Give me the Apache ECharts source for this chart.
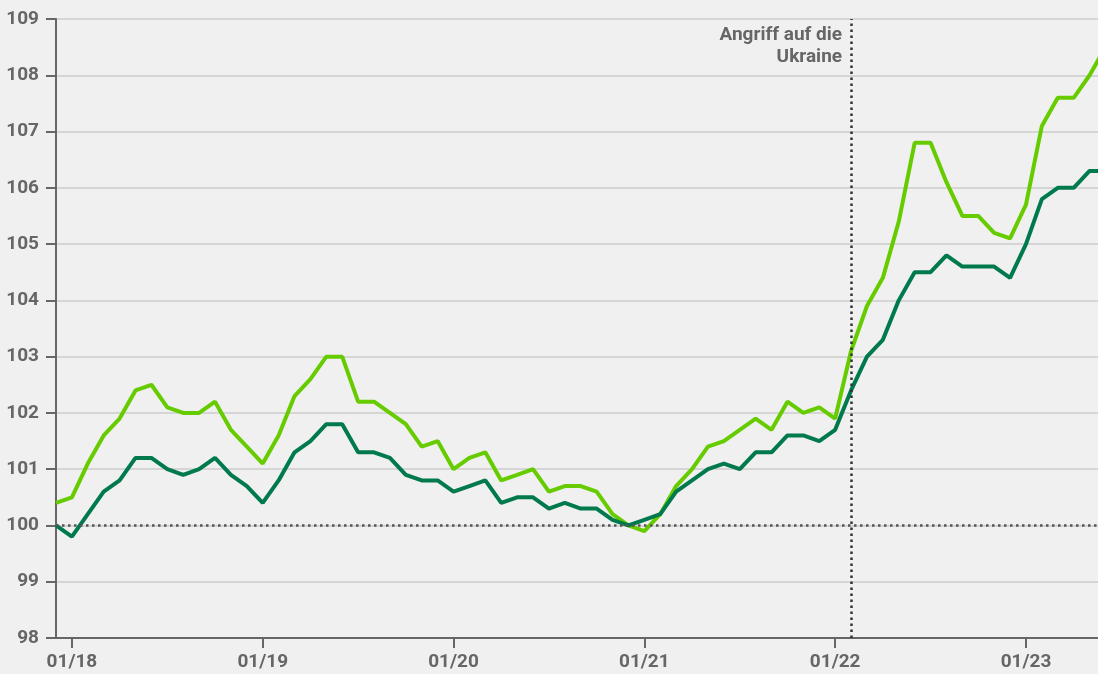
<!DOCTYPE html>
<html>
<head>
<meta charset="utf-8">
<script src="https://cdn.jsdelivr.net/npm/echarts@6/dist/echarts.min.js"></script>
<style>
html,body{margin:0;padding:0;background:#f0f0f0;}
#c{width:1098px;height:674px;}
</style>
</head>
<body>
<div id="c"></div>
<script>
// Month index: -1 = 12/17, 0 = 01/18, ... 65 = 06/23
const startIndex = -1;
const xTickValues = [0, 12, 24, 36, 48, 60];
const xTickLabels = ['01/18', '01/19', '01/20', '01/21', '01/22', '01/23'];
const yTickLabels = [98, 99, 100, 101, 102, 103, 104, 105, 106, 107, 108, 109];

const seriesLight = [
  100.4, 100.5, 101.1, 101.6, 101.9, 102.4, 102.5, 102.1, 102.0, 102.0, 102.2, 101.7, 101.4,
  101.1, 101.6, 102.3, 102.6, 103.0, 103.0, 102.2, 102.2, 102.0, 101.8, 101.4, 101.5,
  101.0, 101.2, 101.3, 100.8, 100.9, 101.0, 100.6, 100.7, 100.7, 100.6, 100.2, 100.0,
  99.9, 100.2, 100.7, 101.0, 101.4, 101.5, 101.7, 101.9, 101.7, 102.2, 102.0, 102.1,
  101.9, 103.1, 103.9, 104.4, 105.4, 106.8, 106.8, 106.1, 105.5, 105.5, 105.2, 105.1,
  105.7, 107.1, 107.6, 107.6, 108.0, 108.5
];
const seriesDark = [
  100.0, 99.8, 100.2, 100.6, 100.8, 101.2, 101.2, 101.0, 100.9, 101.0, 101.2, 100.9, 100.7,
  100.4, 100.8, 101.3, 101.5, 101.8, 101.8, 101.3, 101.3, 101.2, 100.9, 100.8, 100.8,
  100.6, 100.7, 100.8, 100.4, 100.5, 100.5, 100.3, 100.4, 100.3, 100.3, 100.1, 100.0,
  100.1, 100.2, 100.6, 100.8, 101.0, 101.1, 101.0, 101.3, 101.3, 101.6, 101.6, 101.5,
  101.7, 102.4, 103.0, 103.3, 104.0, 104.5, 104.5, 104.8, 104.6, 104.6, 104.6, 104.4,
  105.0, 105.8, 106.0, 106.0, 106.3, 106.3
];
const eventIndex = 49; // 02/22
const eventLabel = 'Angriff auf die\nUkraine';
const baseline = 100;

const toPairs = arr => arr.map((v, i) => [startIndex + i, v]);
const tickLabelMap = {};
xTickValues.forEach((v, i) => { tickLabelMap[v] = xTickLabels[i]; });

const gray = '#666666';
const font = 'Roboto, "Liberation Sans", sans-serif';

const chart = echarts.init(document.getElementById('c'), null, {renderer: 'canvas'});
chart.setOption({
  backgroundColor: '#f0f0f0',
  animation: false,
  grid: {left: 56, right: 0, top: 19, bottom: 36, containLabel: false},
  xAxis: {
    type: 'value',
    min: -1,
    max: 64.53,
    axisLine: {show: true, onZero: false, lineStyle: {color: gray, width: 2}},
    axisTick: {show: true, length: 10, customValues: xTickValues, lineStyle: {color: gray, width: 2}},
    axisLabel: {
      show: true, customValues: xTickValues, margin: 15,
      formatter: v => tickLabelMap[v] || '',
      color: gray, fontFamily: font, fontWeight: 'bold', fontSize: 19
    },
    splitLine: {show: false}
  },
  yAxis: {
    type: 'value',
    min: yTickLabels[0],
    max: yTickLabels[yTickLabels.length - 1],
    interval: 1,
    axisLine: {show: true, onZero: false, lineStyle: {color: gray, width: 2}},
    axisTick: {show: true, length: 10, lineStyle: {color: gray, width: 2}},
    axisLabel: {
      margin: 17, color: gray, fontFamily: font, fontWeight: 'bold', fontSize: 19
    },
    splitLine: {show: true, lineStyle: {color: '#cccccc', width: 1.5}}
  },
  series: [
    {
      type: 'line',
      data: toPairs(seriesLight),
      showSymbol: false,
      symbol: 'none',
      clip: true,
      lineStyle: {color: '#66cc00', width: 4},
      z: 3,
      markLine: {
        silent: true,
        symbol: 'none',
        label: {show: false},
        data: [
          {yAxis: baseline, lineStyle: {color: '#555555', width: 2.5, type: [2.5, 3.5]}},
          {xAxis: eventIndex, lineStyle: {color: '#333333', width: 2.5, type: [2.5, 3.5]}}
        ]
      },
      markPoint: {
        silent: true,
        symbol: 'circle',
        symbolSize: 0,
        data: [{coord: [eventIndex, 108.52], value: 0}],
        label: {
          show: true,
          position: 'left',
          distance: 9,
          formatter: eventLabel,
          align: 'right',
          color: gray,
          fontFamily: font,
          fontWeight: 'bold',
          fontSize: 19,
          lineHeight: 22
        }
      }
    },
    {
      type: 'line',
      data: toPairs(seriesDark),
      showSymbol: false,
      symbol: 'none',
      clip: true,
      lineStyle: {color: '#007a4d', width: 4},
      z: 4
    }
  ]
});
</script>
</body>
</html>
